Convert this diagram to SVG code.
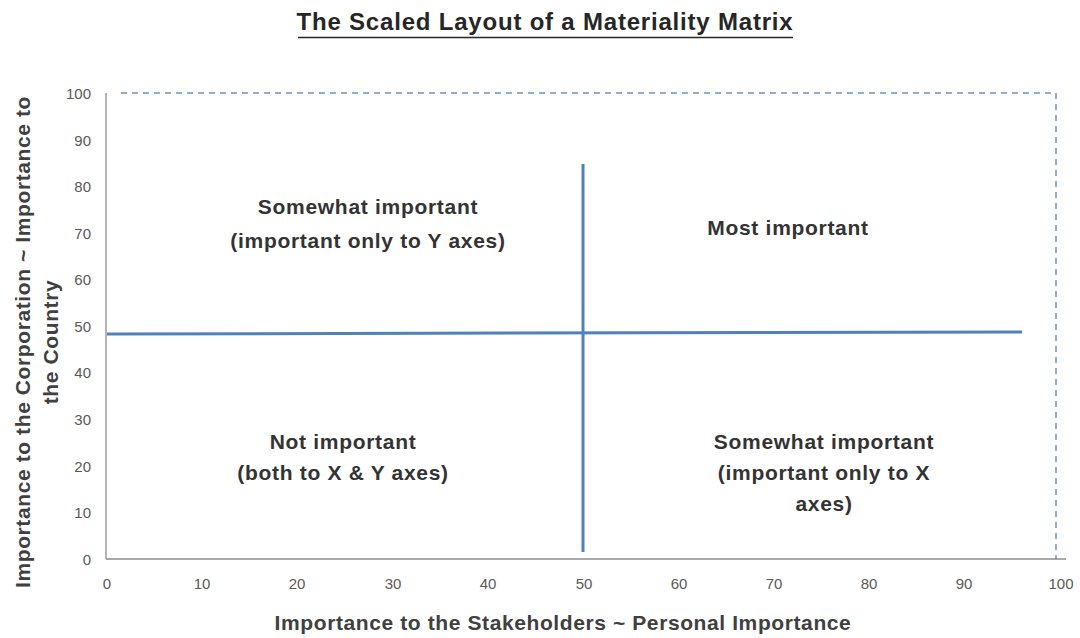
<svg xmlns="http://www.w3.org/2000/svg" width="1080" height="638" viewBox="0 0 1080 638">
  <style>
    .title { font-family: "Liberation Sans", Arial, sans-serif; font-weight: bold; font-size: 24px; letter-spacing: 0.8px; fill: #262626; }
    .axis-title { font-family: "Liberation Sans", Arial, sans-serif; font-weight: bold; font-size: 21px; letter-spacing: 0.6px; fill: #404040; }
    .tick { font-family: "Liberation Sans", Arial, sans-serif; font-size: 15px; fill: #595959; }
    .quad { font-family: "Liberation Sans", Arial, sans-serif; font-weight: bold; font-size: 21px; letter-spacing: 0.7px; fill: #333333; text-anchor: middle; }
    .axis { stroke: #8c8c8c; stroke-width: 1.3; fill: none; }
    .split { stroke: #4f81bd; stroke-width: 3; fill: none; stroke-linecap: butt; }
    .bound { stroke: #4f81bd; stroke-width: 1.5; stroke-dasharray: 6 5; fill: none; opacity: 0.85; }
  </style>

  <rect width="1080" height="638" fill="#ffffff"/>

  <!-- title -->
  <g id="title">
    <text class="title" x="545" y="30" text-anchor="middle">The Scaled Layout of a Materiality Matrix</text>
    <line x1="298" y1="37.5" x2="793" y2="37.5" stroke="#262626" stroke-width="1.6"/>
  </g>

  <!-- plot axes -->
  <g id="axes">
    <line class="axis" x1="106" y1="93" x2="106" y2="559"/>
    <line class="axis" x1="106" y1="559" x2="1066" y2="559"/>
  </g>

  <!-- y tick labels -->
  <g id="y-ticks" text-anchor="end">
    <text class="tick" x="91" y="99">100</text>
    <text class="tick" x="91" y="146">90</text>
    <text class="tick" x="91" y="192">80</text>
    <text class="tick" x="91" y="239">70</text>
    <text class="tick" x="91" y="285">60</text>
    <text class="tick" x="91" y="332">50</text>
    <text class="tick" x="91" y="378">40</text>
    <text class="tick" x="91" y="425">30</text>
    <text class="tick" x="91" y="472">20</text>
    <text class="tick" x="91" y="518">10</text>
    <text class="tick" x="91" y="565">0</text>
  </g>

  <!-- x tick labels -->
  <g id="x-ticks" text-anchor="middle">
    <text class="tick" x="107" y="589">0</text>
    <text class="tick" x="202" y="589">10</text>
    <text class="tick" x="297" y="589">20</text>
    <text class="tick" x="393" y="589">30</text>
    <text class="tick" x="488" y="589">40</text>
    <text class="tick" x="584" y="589">50</text>
    <text class="tick" x="679" y="589">60</text>
    <text class="tick" x="774" y="589">70</text>
    <text class="tick" x="869" y="589">80</text>
    <text class="tick" x="964" y="589">90</text>
    <text class="tick" x="1061" y="589">100</text>
  </g>

  <!-- axis titles -->
  <g id="x-title">
    <text class="axis-title" x="563" y="630" text-anchor="middle">Importance to the Stakeholders ~ Personal Importance</text>
  </g>
  <g id="y-title" text-anchor="middle">
    <text class="axis-title" transform="translate(30,342) rotate(-90)">Importance to the Corporation ~ Importance to</text>
    <text class="axis-title" transform="translate(58,342) rotate(-90)">the Country</text>
  </g>

  <!-- connectors: quadrant dividers and dashed outer bound -->
  <g id="connectors">
    <line class="split" x1="107" y1="334" x2="1022" y2="332"/>
    <line class="split" x1="583" y1="164" x2="583" y2="552"/>
    <polyline class="bound" points="121,93 1056,93 1056,559"/>
  </g>

  <!-- quadrant labels -->
  <g id="quad-top-left">
    <text class="quad" x="368" y="214">Somewhat important</text>
    <text class="quad" x="368" y="248">(important only to Y axes)</text>
  </g>
  <g id="quad-top-right">
    <text class="quad" x="788" y="235">Most important</text>
  </g>
  <g id="quad-bottom-left">
    <text class="quad" x="343" y="449">Not important</text>
    <text class="quad" x="343" y="480">(both to X &amp; Y axes)</text>
  </g>
  <g id="quad-bottom-right">
    <text class="quad" x="824" y="449">Somewhat important</text>
    <text class="quad" x="824" y="480">(important only to X</text>
    <text class="quad" x="824" y="511">axes)</text>
  </g>
</svg>
